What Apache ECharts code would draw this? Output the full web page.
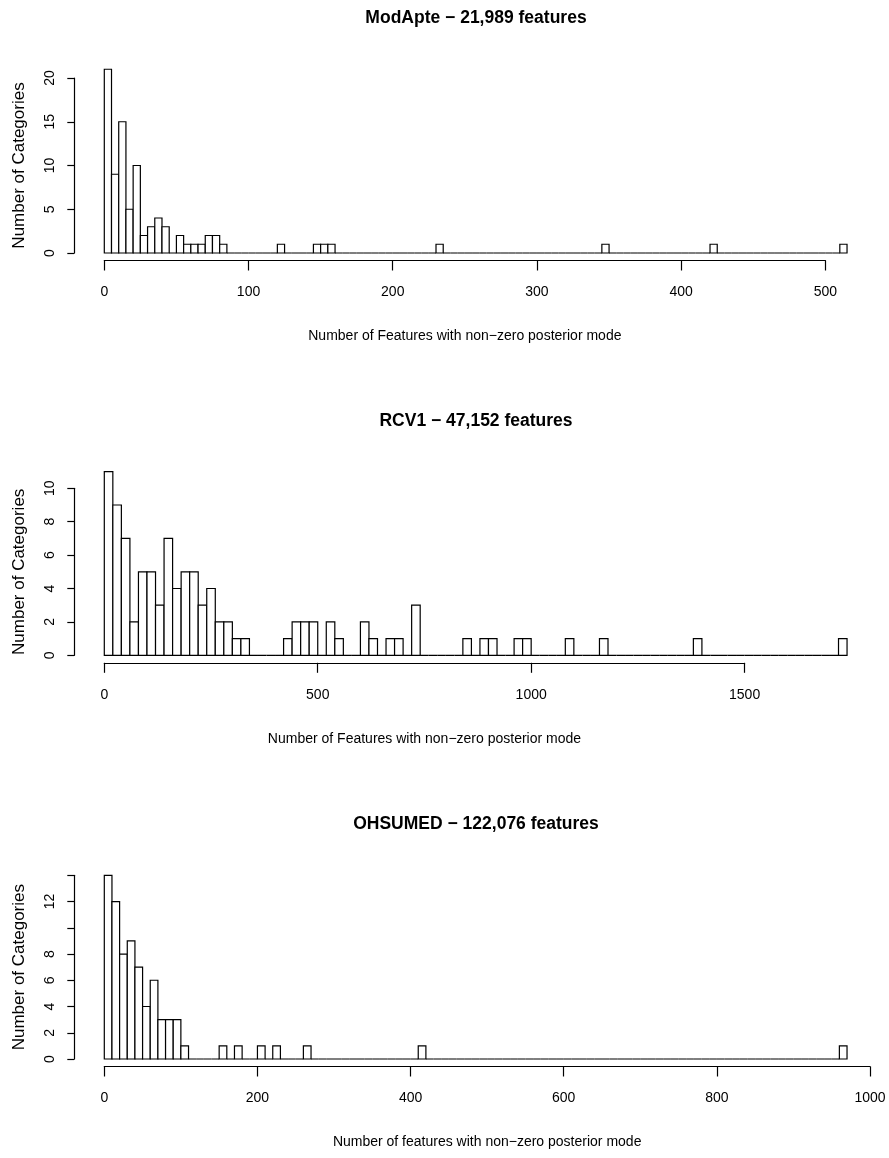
<!DOCTYPE html>
<html>
<head>
<meta charset="utf-8">
<script src="https://cdn.jsdelivr.net/npm/echarts@6/dist/echarts.min.js"></script>
<style>
html, body { margin: 0; padding: 0; background: #fff; }
#chart { width: 889px; height: 1158px; }
</style>
</head>
<body>
<div id="chart"></div>
<script>
// counts per bin, bins start at 0
let modapteTitle = 'ModApte − 21,989 features'
let modapteBinWidth = 5
let modapteCounts = [
  21, 9, 15, 5, 10, 2, 3, 4, 3, 0, 2, 1, 1, 1, 2, 2, 1,
  0, 0, 0, 0, 0, 0, 0, 1, 0, 0, 0, 0, 1, 1, 1,
  0, 0, 0, 0, 0, 0, 0, 0, 0, 0, 0, 0, 0, 0, 1,
  0, 0, 0, 0, 0, 0, 0, 0, 0, 0, 0, 0, 0, 0, 0, 0, 0, 0, 0, 0, 0, 0, 1,
  0, 0, 0, 0, 0, 0, 0, 0, 0, 0, 0, 0, 0, 0, 1,
  0, 0, 0, 0, 0, 0, 0, 0, 0, 0, 0, 0, 0, 0, 0, 0, 0, 1
]

let rcv1Title = 'RCV1 − 47,152 features'
let rcv1BinWidth = 20
let rcv1Counts = [
  11, 9, 7, 2, 5, 5, 3, 7, 4, 5, 5, 3, 4, 2, 2, 1, 1,
  0, 0, 0, 0, 1, 2, 2, 2, 0, 2, 1, 0, 0, 2, 1, 0, 1, 1, 0, 3,
  0, 0, 0, 0, 0, 1, 0, 1, 1, 0, 0, 1, 1,
  0, 0, 0, 0, 1, 0, 0, 0, 1,
  0, 0, 0, 0, 0, 0, 0, 0, 0, 0, 1,
  0, 0, 0, 0, 0, 0, 0, 0, 0, 0, 0, 0, 0, 0, 0, 0, 1
]

let ohsumedTitle = 'OHSUMED − 122,076 features'
let ohsumedBinWidth = 10
let ohsumedCounts = [
  14, 12, 8, 9, 7, 4, 6, 3, 3, 3, 1,
  0, 0, 0, 0, 1, 0, 1, 0, 0, 1, 0, 1, 0, 0, 0, 1,
  0, 0, 0, 0, 0, 0, 0, 0, 0, 0, 0, 0, 0, 0, 1,
  0, 0, 0, 0, 0, 0, 0, 0, 0, 0, 0, 0, 0, 0, 0, 0, 0, 0, 0, 0, 0, 0, 0, 0, 0, 0, 0,
  0, 0, 0, 0, 0, 0, 0, 0, 0, 0, 0, 0, 0, 0, 0, 0, 0, 0, 0, 0, 0, 0, 0, 0, 0, 0, 0, 1
]

let xNameUpper = 'Number of Features with non−zero posterior mode'
let xNameLower = 'Number of features with non−zero posterior mode'
let yName = 'Number of Categories'

let font = "'Liberation Sans', Arial, Helvetica, sans-serif"

let panels = [
  {title: modapteTitle, counts: modapteCounts, binWidth: modapteBinWidth, xName: xNameUpper,
    xMax: 500, xStep: 100, yMax: 20, yStep: 5, hideY: [],
    top: 78, height: 175, right: 63.6, titleTop: 9.5},
  {title: rcv1Title, counts: rcv1Counts, binWidth: rcv1BinWidth, xName: xNameUpper,
    xMax: 1500, xStep: 500, yMax: 10, yStep: 2, hideY: [],
    top: 488.3, height: 167, right: 144.4, titleTop: 412},
  {title: ohsumedTitle, counts: ohsumedCounts, binWidth: ohsumedBinWidth, xName: xNameLower,
    xMax: 1000, xStep: 200, yMax: 14, yStep: 2, hideY: [10, 14],
    top: 875.3, height: 183.7, right: 19, titleTop: 815}
]

function renderBar (params, api) {
  let topLeft = api.coord([api.value(0), api.value(2)])
  let bottomRight = api.coord([api.value(1), 0])
  return {
    type: 'rect',
    shape: {
      x: topLeft[0],
      y: topLeft[1],
      width: bottomRight[0] - topLeft[0],
      height: bottomRight[1] - topLeft[1]
    },
    style: {fill: '#fff', stroke: '#000', lineWidth: 1.2}
  }
}

let option = {
  animation: false,
  backgroundColor: '#fff',
  title: [],
  grid: [],
  xAxis: [],
  yAxis: [],
  series: []
}

panels.forEach((p, i) => {
  option.title.push({
    text: p.title,
    left: 476,
    top: p.titleTop,
    textAlign: 'center',
    padding: 0,
    textStyle: {fontFamily: font, fontSize: 17.5, fontWeight: 'bold', color: '#000'}
  })
  option.grid.push({left: 104.3, right: p.right, top: p.top, height: p.height})
  option.xAxis.push({
    type: 'value',
    gridIndex: i,
    min: 0,
    max: p.xMax,
    interval: p.xStep,
    offset: 7.5,
    axisLine: {show: true, onZero: false, lineStyle: {color: '#000', width: 1.2}},
    axisTick: {show: true, length: 10, lineStyle: {color: '#000', width: 1.2}},
    axisLabel: {color: '#000', fontSize: 14, fontFamily: font, margin: 25, formatter: (v) => String(v)},
    splitLine: {show: false},
    name: p.xName,
    nameLocation: 'middle',
    nameGap: 69,
    nameTextStyle: {color: '#000', fontSize: 14, fontFamily: font}
  })
  option.yAxis.push({
    type: 'value',
    gridIndex: i,
    min: 0,
    max: p.yMax,
    interval: p.yStep,
    offset: 30,
    axisLine: {show: true, onZero: false, lineStyle: {color: '#000', width: 1.2}},
    axisTick: {show: true, length: 7, lineStyle: {color: '#000', width: 1.2}},
    axisLabel: {
      color: '#000',
      fontSize: 14,
      fontFamily: font,
      rotate: 90,
      margin: 17,
      formatter: (v) => p.hideY.indexOf(v) >= 0 ? '' : String(v)
    },
    splitLine: {show: false},
    name: yName,
    nameLocation: 'middle',
    nameGap: 46,
    nameTextStyle: {color: '#000', fontSize: 17, fontFamily: font}
  })
  option.series.push({
    type: 'custom',
    xAxisIndex: i,
    yAxisIndex: i,
    clip: false,
    renderItem: renderBar,
    encode: {x: [0, 1], y: 2},
    data: p.counts.map((c, k) => [k * p.binWidth, (k + 1) * p.binWidth, c])
  })
})

let myChart = echarts.init(document.getElementById('chart'))
myChart.setOption(option)
</script>
</body>
</html>
